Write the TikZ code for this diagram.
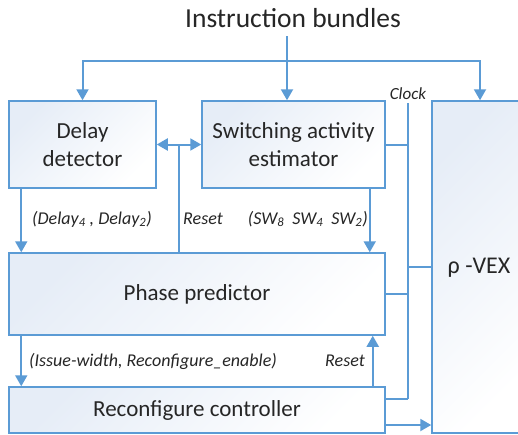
\documentclass[tikz,border=0pt]{standalone}
\usepackage{fontspec}
\setmainfont{Carlito}
\usetikzlibrary{arrows.meta}
\definecolor{lineblue}{RGB}{91,155,213}
\definecolor{boxfill}{RGB}{230,237,247}
\definecolor{txt}{RGB}{38,38,38}
\tikzset{
  block/.style={draw=lineblue, line width=1.5pt, top color=boxfill, bottom color=white,
    shading angle=45, text=txt, align=center, font=\fontsize{23}{28}\selectfont, inner sep=0pt},
  wire/.style={draw=lineblue, line width=2pt},
  arr/.style={wire, -{Triangle[length=11pt,width=12pt]}},
  arrboth/.style={wire, {Triangle[length=11pt,width=12pt]}-{Triangle[length=11pt,width=12pt]}},
  lbl/.style={text=txt, font=\fontsize{18}{21}\selectfont\itshape, inner sep=0pt}
}

\begin{document}
\begin{tikzpicture}[x=1pt,y=-1pt]
\clip (0,0) rectangle (518,434);
\fill[white] (0,0) rectangle (518,434);
% blocks
\node[text=txt, font=\fontsize{27.5}{32}\selectfont, inner sep=0pt] (title) at (293,18) {Instruction bundles};
\node[block, minimum width=147pt, minimum height=87pt] (delay) at (82.5,144.5) {Delay\\detector};
\node[block, minimum width=183pt, minimum height=87pt] (switch) at (293.5,144.5) {Switching activity\\estimator};
\node[block, minimum width=96pt, minimum height=332pt] (vex) at (480,267) {};
\node[text=txt, font=\fontsize{24}{28}\selectfont, inner sep=0pt] (vexname) at (479,268) {ρ -VEX};
\node[block, minimum width=376pt, minimum height=82pt] (phase) at (197,294) {Phase predictor};
\node[block, minimum width=376pt, minimum height=46pt] (ctrl) at (197,410) {Reconfigure controller};
% instruction bundles
\coordinate (split) at (287,61);
\draw[wire] (287,36) -- (split);
\draw[arr] (split) -| (delay.north);
\draw[arr] (split) -- (split |- switch.north);
\draw[arr] (split) -| (vex.north);
% reset between detector and estimator
\coordinate (rst) at (179,144.5);
\draw[arrboth] (delay.east) -- (switch.west);
\draw[wire] (rst) -- (rst |- phase.north);
\node[lbl, anchor=west] (rstlbl) at (183,219) {Reset};
% data into the predictor
\draw[arr] ([xshift=13pt]delay.south west) -- ([xshift=13pt]phase.north west);
\node[lbl, anchor=west] (dlylbl) at (32,219) {(Delay\textsubscript{4} , Delay\textsubscript{2})};
\draw[arr] ([xshift=-16pt]switch.south east) -- ([xshift=-16pt]phase.north east);
\node[lbl, anchor=east] (swlbl) at (368,219) {(SW\textsubscript{8}\ \ SW\textsubscript{4}\ \ SW\textsubscript{2})};
% predictor and controller
\draw[arr] ([xshift=13pt]phase.south west) -- ([xshift=13pt]ctrl.north west);
\node[lbl, anchor=west] (isslbl) at (29,361) {(Issue-width, Reconfigure\_enable)};
\draw[arr] ([xshift=-13pt]ctrl.north east) -- ([xshift=-13pt]phase.south east);
\node[lbl, anchor=east] (rst2lbl) at (365,361) {Reset};
\draw[arr] ([yshift=-15pt]ctrl.east) -- ([yshift=-15pt]ctrl.east -| vex.west);
% clock
\coordinate (clk) at (408,103);
\coordinate (clkend) at (408,399);
\node[lbl, font=\fontsize{17}{20}\selectfont\itshape] (clklbl) at (408,94) {Clock};
\draw[wire] (clk) -- (clkend);
\draw[wire] (switch.east) -- (switch.east -| clk);
\draw[wire] (vex.west -| clk) -- (vex.west);
\draw[wire] (phase.east) -- (phase.east -| clk);
\draw[wire] ([yshift=11pt]ctrl.east) -- (clkend);
\end{tikzpicture}
\end{document}
